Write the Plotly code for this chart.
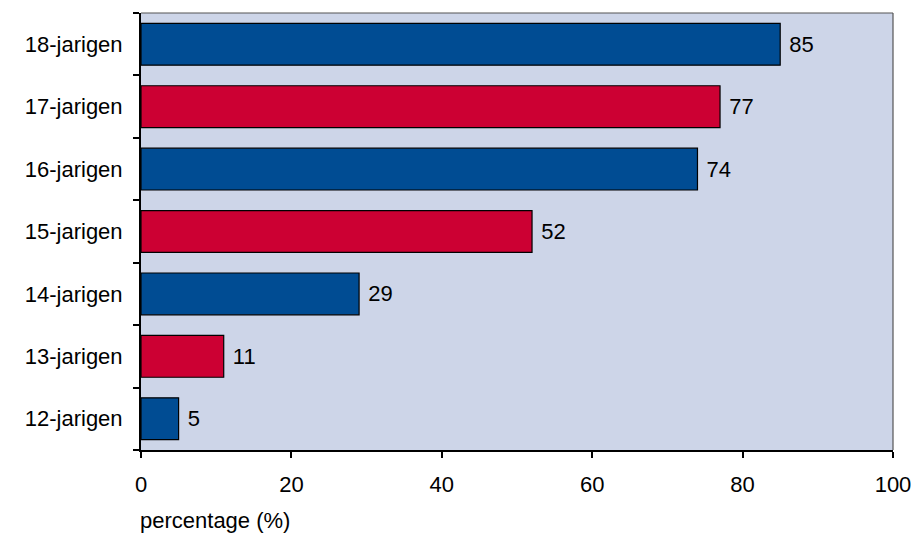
import plotly.graph_objects as go

categories = ["12-jarigen", "13-jarigen", "14-jarigen", "15-jarigen", "16-jarigen", "17-jarigen", "18-jarigen"]
values = [5, 11, 29, 52, 74, 77, 85]
bar_colors = ["#004C93", "#CC0033", "#004C93", "#CC0033", "#004C93", "#CC0033", "#004C93"]
x_ticks = [0, 20, 40, 60, 80, 100]

FONT = "Liberation Sans, Arial, sans-serif"

fig = go.Figure()
fig.add_trace(go.Bar(
    y=categories, x=values, orientation="h",
    marker=dict(color=bar_colors, line=dict(color="black", width=1.2)),
    width=0.67,
    text=[f" {v}" for v in values], textposition="outside",
    textfont=dict(family=FONT, size=22, color="black"),
    cliponaxis=False,
    hoverinfo="skip",
))

fig.update_layout(
    width=916, height=535,
    margin=dict(l=141, r=23, t=13, b=85, autoexpand=False),
    paper_bgcolor="white", plot_bgcolor="#CDD5E8",
    font=dict(family=FONT, size=22, color="black"),
    showlegend=False,
    shapes=[
        dict(type="line", xref="paper", yref="paper", x0=0, x1=1, y0=1, y1=1,
             line=dict(color="#555555", width=1.2)),
        dict(type="line", xref="paper", yref="paper", x0=1, x1=1, y0=0, y1=1,
             line=dict(color="#555555", width=1.2)),
    ],
    annotations=[dict(text="percentage (%)", xref="paper", yref="paper", x=0, y=0,
                      xanchor="left", yanchor="bottom", yshift=-85, xshift=-3, showarrow=False,
                      font=dict(family=FONT, size=22, color="black"))],
)
fig.update_xaxes(range=[0, 100], tickvals=x_ticks, showgrid=False, zeroline=False,
                 showline=True, linecolor="black", linewidth=2,
                 ticks="outside", ticklen=6, tickwidth=1.5, tickcolor="black",
                 tickfont=dict(size=22), fixedrange=True, automargin=False,
                 ticklabelstandoff=8)
fig.update_yaxes(categoryorder="array", categoryarray=categories, showgrid=False,
                 showline=True, linecolor="black", linewidth=2,
                 ticks="outside", tickson="boundaries", ticklen=6, tickwidth=1.5, tickcolor="black",
                 tickfont=dict(size=22), fixedrange=True, automargin=False,
                 ticklabelstandoff=12)

fig.write_html("out.html")
